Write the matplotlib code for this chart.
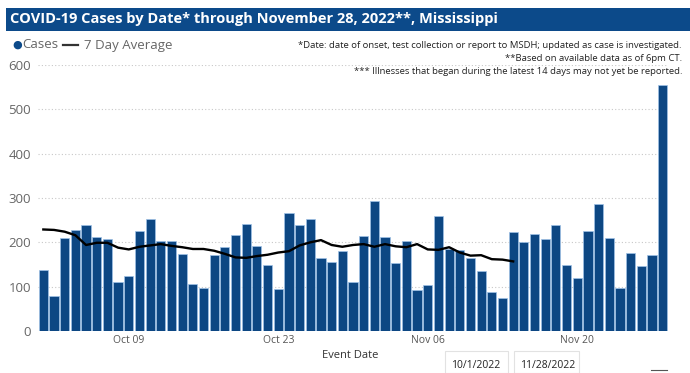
import matplotlib
matplotlib.use("Agg")
import matplotlib.pyplot as plt
from matplotlib.patches import Rectangle
from matplotlib import font_manager
import numpy as np
import datetime as dt

# ---- data ----
start_date = dt.date(2022, 10, 1)
cases = [138, 78, 210, 227, 238, 213, 207, 110, 123, 226,
         252, 202, 204, 174, 107, 96, 171, 190, 216, 241,
         191, 149, 94, 267, 238, 252, 165, 155, 180, 110,
         214, 293, 212, 153, 203, 92, 104, 259, 186, 182,
         164, 136, 89, 74, 223, 201, 219, 207, 238, 148,
         119, 226, 286, 210, 98, 176, 147, 172, 556]
avg7 = [229, 228, 224, 216, 194, 199, 199, 188, 184, 190,
        193, 196, 192, 189, 185, 185, 181, 174, 166, 165,
        169, 172, 177, 180, 193, 200, 205, 194, 190, 194,
        196, 190, 196, 191, 189, 196, 184, 183, 189, 177,
        170, 171, 162, 161, 157]
tick_days = [8, 22, 36, 50]
tick_labels = ["Oct 09", "Oct 23", "Nov 06", "Nov 20"]
y_ticks = [0, 100, 200, 300, 400, 500, 600]

title = "COVID-19 Cases by Date* through November 28, 2022**, Mississippi"
notes = ["*Date: date of onset, test collection or report to MSDH; updated as case is investigated.",
         "**Based on available data as of 6pm CT.",
         "*** Illnesses that began during the latest 14 days may not yet be reported."]

names = {f.name for f in font_manager.fontManager.ttflist}
title_font = "Liberation Sans Narrow" if "Liberation Sans Narrow" in names else "Open Sans"
title_size = 13.2 if title_font == "Liberation Sans Narrow" else 10.5

W, H = 690, 373
fig = plt.figure(figsize=(W / 100, H / 100), dpi=100)
fig.patch.set_facecolor("white")

def fx(x):
    return x / W

def fy(y):
    return 1 - y / H

# title bar
fig.patches.append(Rectangle((fx(6), fy(31)), fx(684), 23 / H, transform=fig.transFigure,
                             facecolor="#0c4a8a", edgecolor="none", zorder=0))
fig.text(fx(10), fy(19.5), title, color="white", fontsize=title_size, fontweight="bold",
         family=title_font, va="center", ha="left")

# legend
fig.text(fx(12), fy(45), "\u25CF", color="#0c4a8a", fontsize=8, va="center", ha="left",
         family="DejaVu Sans")
fig.text(fx(22), fy(45), "Cases", color="#666666", fontsize=9.5, va="center", ha="left",
         family="Open Sans")
fig.lines.append(plt.Line2D([fx(63), fx(78)], [fy(44.5), fy(44.5)], transform=fig.transFigure,
                            color="#333333", linewidth=1.6))
fig.text(fx(84), fy(45), "7 Day Average", color="#666666", fontsize=9.5, va="center", ha="left",
         family="Open Sans")

for i, (t, yy) in enumerate(zip(notes, [45, 58.5, 72])):
    fig.text(fx(682), fy(yy), t, color="#222222", fontsize=6.8, va="center", ha="right",
             family="Open Sans")

ax = fig.add_axes([fx(38), fy(331), fx(630), 266 / H])
ax.set_facecolor("none")
n = len(cases)
x = np.arange(n)
ax.bar(x, cases, width=0.86, color="#0d4783", edgecolor="#9fc3e7", linewidth=0.5, zorder=2)
ax.plot(np.arange(len(avg7)), avg7, color="black", linewidth=1.7, zorder=3,
        solid_joinstyle="round")

ax.set_xlim(-0.5, n - 0.5)
ax.set_ylim(0, 600)
ax.set_yticks(y_ticks)
ax.set_yticklabels([str(v) for v in y_ticks], color="#666666", fontsize=9.5, family="Open Sans")
ax.set_xticks(tick_days)
ax.set_xticklabels(tick_labels, color="#555555", fontsize=7.5, family="Open Sans")
ax.tick_params(axis="both", length=0)
ax.tick_params(axis="y", pad=5)
ax.tick_params(axis="x", pad=3)
for s in ax.spines.values():
    s.set_visible(False)
ax.grid(axis="y", linestyle=(0, (1, 2)), color="#c8c8c8", linewidth=0.8, zorder=0)
ax.set_axisbelow(True)

fig.text(fx(350), fy(356), "Event Date", color="#333333", fontsize=8, va="center", ha="center",
         family="Open Sans")

# date slicer boxes
for (x0, x1, lab) in [(445, 508, "10/1/2022"), (514, 579, "11/28/2022")]:
    fig.patches.append(Rectangle((fx(x0), fy(373)), fx(x1 - x0), 22 / H, transform=fig.transFigure,
                                 facecolor="white", edgecolor="#e2e2e2", linewidth=0.8))
    fig.text(fx(x0 + 6), fy(365), lab, color="#222222", fontsize=7.5, va="center", ha="left",
             family="Open Sans")
fig.lines.append(plt.Line2D([fx(651), fx(667)], [fy(370), fy(370)], transform=fig.transFigure,
                            color="#555555", linewidth=0.8))

fig.savefig("out.png", dpi=100)
